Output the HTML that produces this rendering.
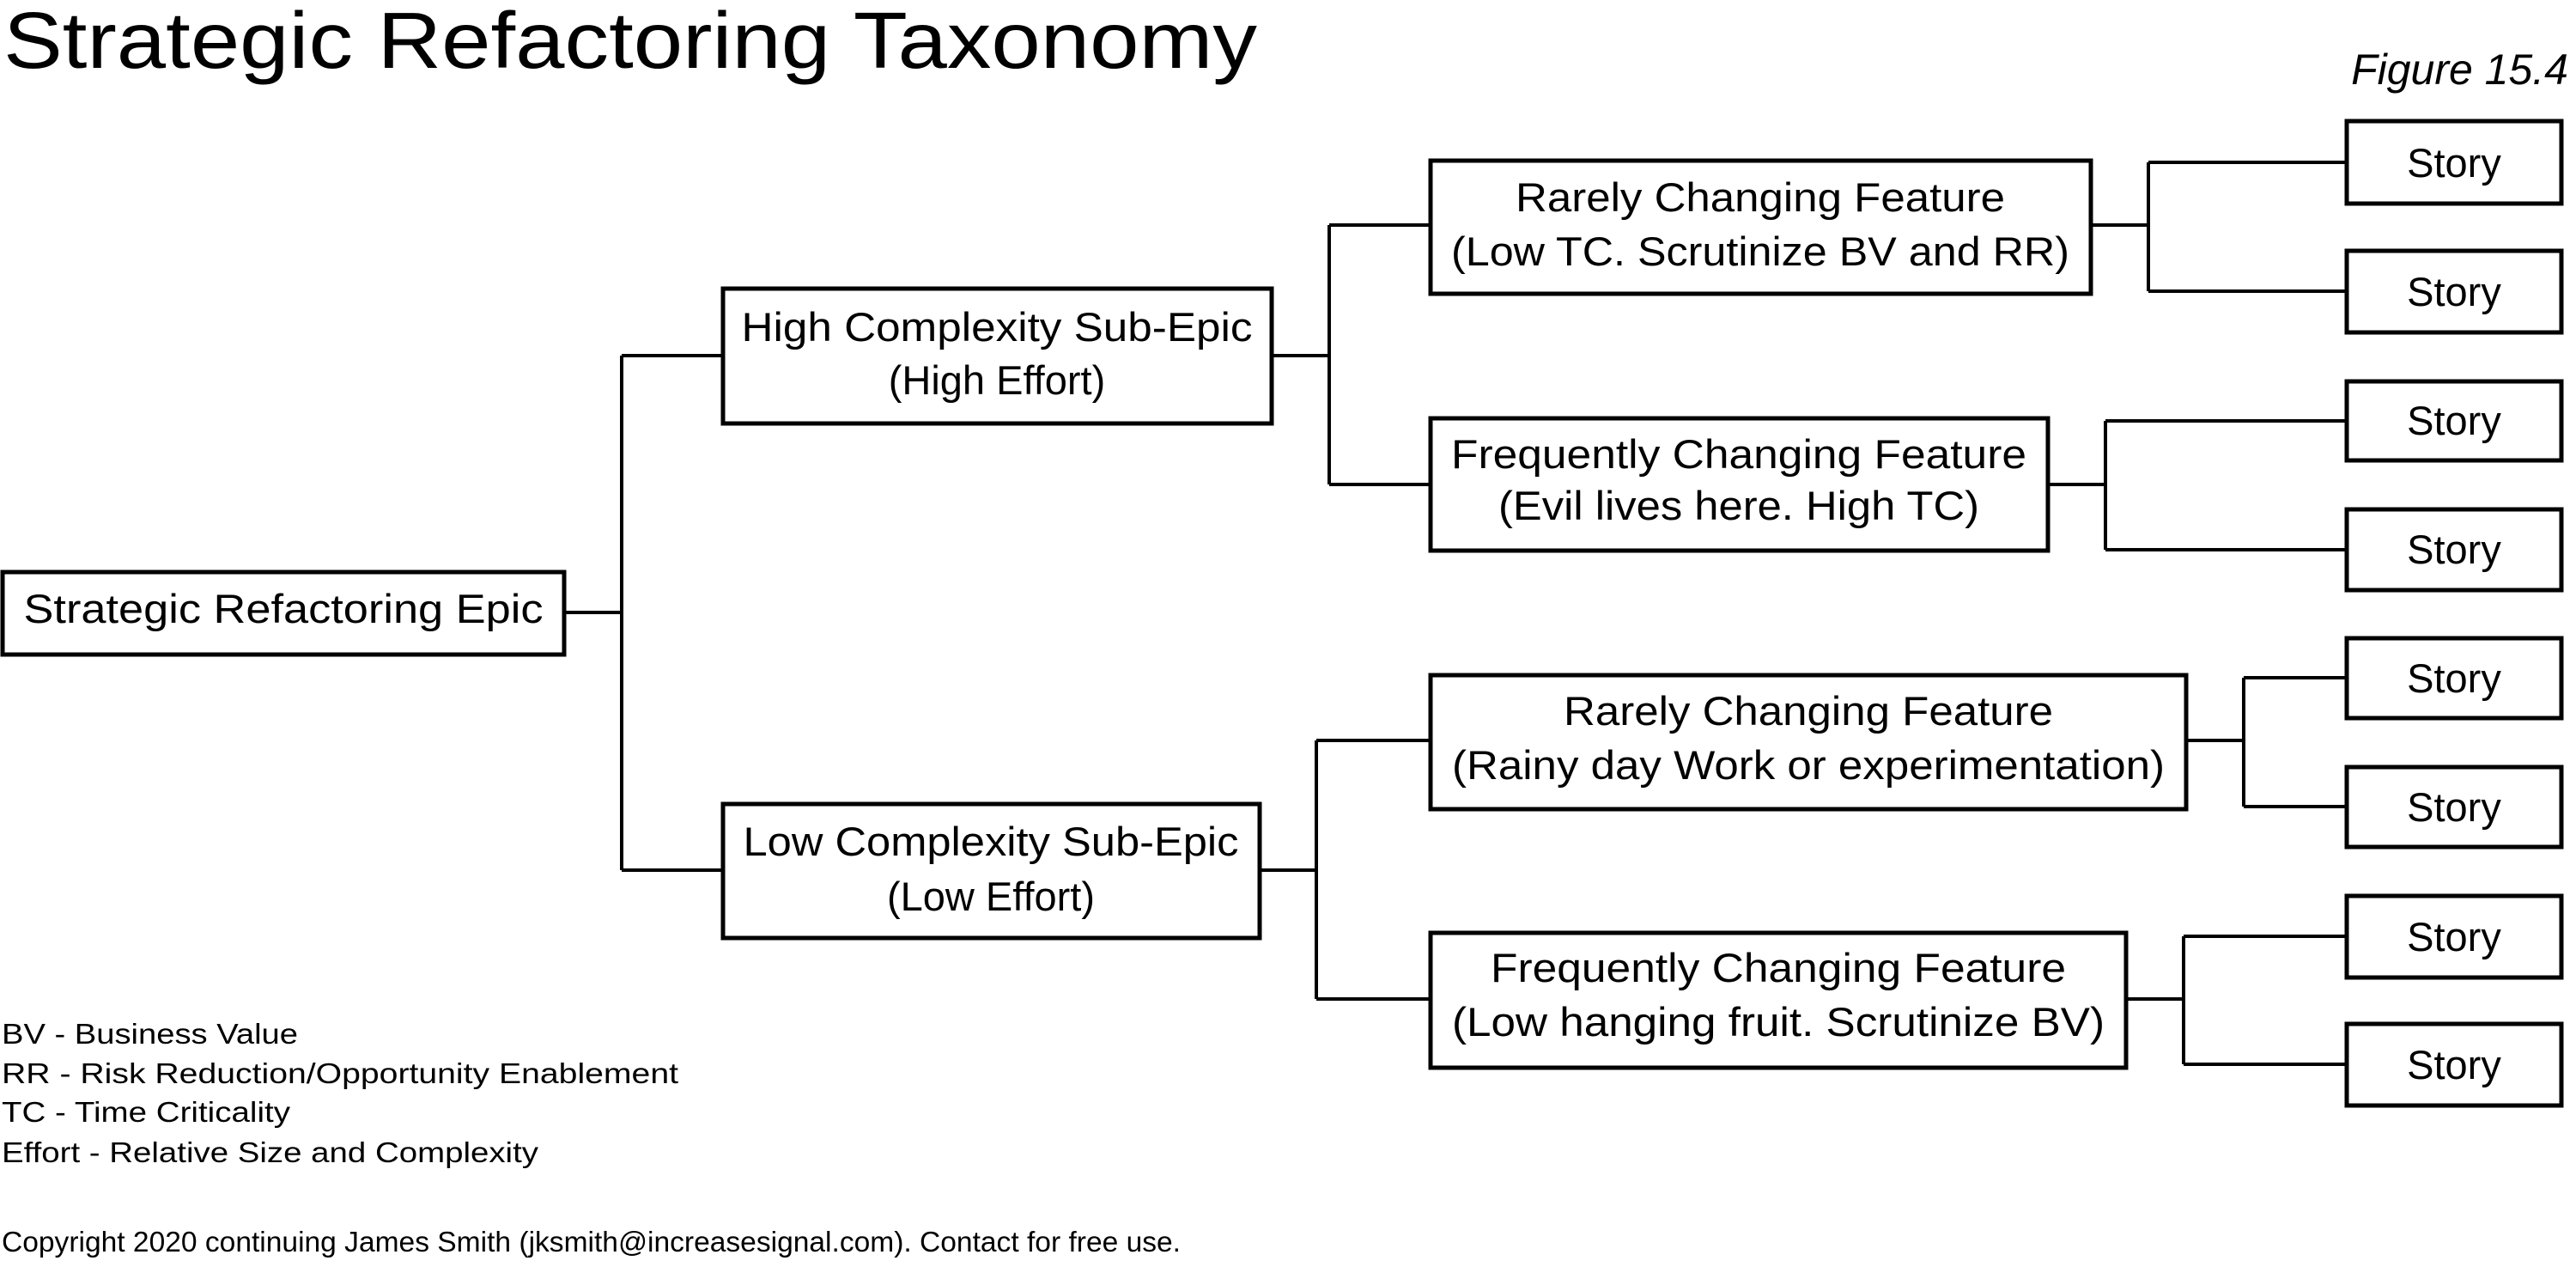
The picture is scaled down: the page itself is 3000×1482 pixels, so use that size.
<!DOCTYPE html>
<html><head><meta charset="utf-8"><style>
html,body{margin:0;padding:0;background:#fff;}
svg{display:block;}
text{font-family:"Liberation Sans",sans-serif;fill:#000;}
</style></head><body>
<svg width="3000" height="1482" viewBox="0 0 3000 1482" xmlns="http://www.w3.org/2000/svg">
<text x="4" y="79" font-size="93" textLength="1460" lengthAdjust="spacingAndGlyphs">Strategic Refactoring Taxonomy</text>
<text x="2991" y="98" font-size="50" font-style="italic" text-anchor="end">Figure 15.4</text>

<g fill="none" stroke="#000" stroke-width="5">
<rect x="3" y="666" width="654" height="96"/>
<rect x="842" y="336" width="639" height="157"/>
<rect x="842" y="936" width="625" height="156"/>
<rect x="1666" y="187" width="769" height="155"/>
<rect x="1666" y="487" width="719" height="154"/>
<rect x="1666" y="786" width="880" height="156"/>
<rect x="1666" y="1086" width="810" height="157"/>
<rect x="2733" y="141" width="250" height="96"/>
<rect x="2733" y="292" width="250" height="95"/>
<rect x="2733" y="444" width="250" height="92"/>
<rect x="2733" y="593" width="250" height="94"/>
<rect x="2733" y="743" width="250" height="93"/>
<rect x="2733" y="893" width="250" height="93"/>
<rect x="2733" y="1043" width="250" height="95"/>
<rect x="2733" y="1192" width="250" height="95"/>
</g>
<g fill="none" stroke="#000" stroke-width="4">
<path d="M657 713H724M724 414V1013M724 414H842M724 1013H842"/>
<path d="M1481 414H1548M1548 262V564M1548 262H1666M1548 564H1666"/>
<path d="M1467 1013H1533M1533 862V1163M1533 862H1666M1533 1163H1666"/>
<path d="M2435 262H2502M2502 189V339M2502 189H2733M2502 339H2733"/>
<path d="M2385 564H2452M2452 490V640M2452 490H2733M2452 640H2733"/>
<path d="M2546 862H2613M2613 789V939M2613 789H2733M2613 939H2733"/>
<path d="M2476 1163H2543M2543 1090V1239M2543 1090H2733M2543 1239H2733"/>
</g>

<g font-size="47" text-anchor="middle">
<text x="330" y="725" textLength="605" lengthAdjust="spacingAndGlyphs">Strategic Refactoring Epic</text>
<text x="1161" y="397" textLength="595" lengthAdjust="spacingAndGlyphs">High Complexity Sub-Epic</text>
<text x="1161" y="459">(High Effort)</text>
<text x="1154" y="996" textLength="577" lengthAdjust="spacingAndGlyphs">Low Complexity Sub-Epic</text>
<text x="1154" y="1060">(Low Effort)</text>
<text x="2050" y="246" textLength="570" lengthAdjust="spacingAndGlyphs">Rarely Changing Feature</text>
<text x="2050" y="309" textLength="720" lengthAdjust="spacingAndGlyphs">(Low TC. Scrutinize BV and RR)</text>
<text x="2025" y="545" textLength="670" lengthAdjust="spacingAndGlyphs">Frequently Changing Feature</text>
<text x="2025" y="605" textLength="560" lengthAdjust="spacingAndGlyphs">(Evil lives here. High TC)</text>
<text x="2106" y="844" textLength="570" lengthAdjust="spacingAndGlyphs">Rarely Changing Feature</text>
<text x="2106" y="907" textLength="830" lengthAdjust="spacingAndGlyphs">(Rainy day Work or experimentation)</text>
<text x="2071" y="1143" textLength="670" lengthAdjust="spacingAndGlyphs">Frequently Changing Feature</text>
<text x="2071" y="1206" textLength="760" lengthAdjust="spacingAndGlyphs">(Low hanging fruit. Scrutinize BV)</text>
<text x="2858" y="206">Story</text>
<text x="2858" y="356">Story</text>
<text x="2858" y="506">Story</text>
<text x="2858" y="656">Story</text>
<text x="2858" y="806">Story</text>
<text x="2858" y="956">Story</text>
<text x="2858" y="1107">Story</text>
<text x="2858" y="1256">Story</text>
</g>

<g font-size="33">
<text x="2" y="1215" textLength="345" lengthAdjust="spacingAndGlyphs">BV - Business Value</text>
<text x="2" y="1261" textLength="788" lengthAdjust="spacingAndGlyphs">RR - Risk Reduction/Opportunity Enablement</text>
<text x="2" y="1306" textLength="336" lengthAdjust="spacingAndGlyphs">TC - Time Criticality</text>
<text x="2" y="1353" textLength="625" lengthAdjust="spacingAndGlyphs">Effort - Relative Size and Complexity</text>
<text x="2" y="1457" textLength="1373" lengthAdjust="spacingAndGlyphs">Copyright 2020 continuing James Smith (jksmith@increasesignal.com). Contact for free use.</text>
</g>
</svg>
</body></html>
